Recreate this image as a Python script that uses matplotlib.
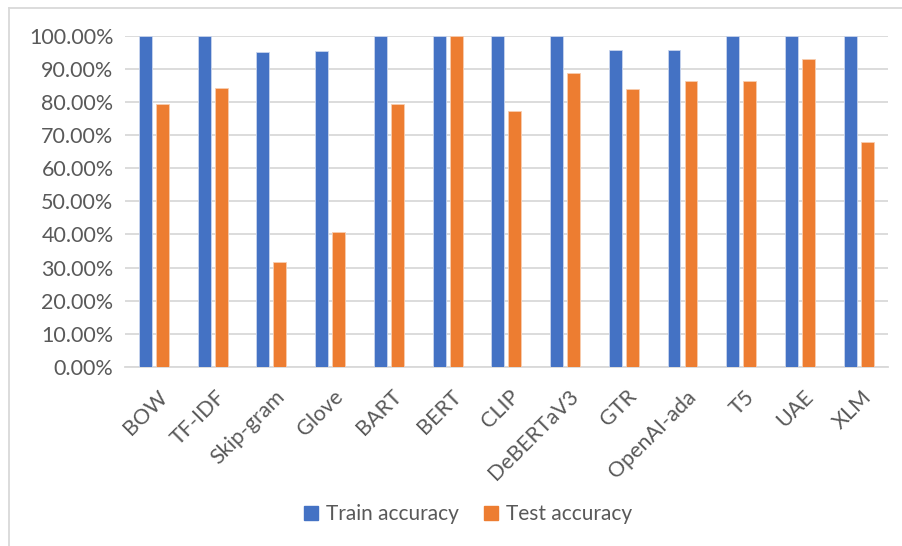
import matplotlib.pyplot as plt
import numpy as np
from matplotlib.lines import Line2D
from matplotlib.ticker import PercentFormatter
from matplotlib.transforms import ScaledTranslation

plt.rcParams['font.family'] = ['Lato', 'DejaVu Sans']

models = ['BOW', 'TF-IDF', 'Skip-gram', 'Glove', 'BART', 'BERT', 'CLIP',
          'DeBERTaV3', 'GTR', 'OpenAI-ada', 'T5', 'UAE', 'XLM']
train_acc = [100.0, 100.0, 95.0, 95.4, 100.0, 100.0, 100.0,
             100.0, 95.8, 95.8, 100.0, 100.0, 100.0]
test_acc = [79.4, 84.1, 31.8, 40.9, 79.4, 100.0, 77.2,
            88.6, 84.0, 86.2, 86.2, 93.0, 68.0]

blue = '#4472C4'
orange = '#ED7D31'
text_grey = '#595959'

fig = plt.figure(figsize=(9.03, 5.46), dpi=100)
ax = fig.add_axes([0.138, 0.3278, 0.8454, 0.6068])

x = np.arange(len(models))
w = 0.22
gap = 0.07
ax.bar(x - (w + gap) / 2, train_acc, w, color=blue, edgecolor='#c9d5ee',
       linewidth=0.6, label='Train accuracy', zorder=3)
ax.bar(x + (w + gap) / 2, test_acc, w, color=orange, edgecolor='#f8cdb0',
       linewidth=0.6, label='Test accuracy', zorder=3)

ax.set_xlim(-0.5, len(models) - 0.5)
ax.set_ylim(0, 100)
ax.set_yticks(np.arange(0, 101, 10))
ax.yaxis.set_major_formatter(PercentFormatter(decimals=2))
ax.grid(axis='y', color='#d9d9d9', linewidth=1.3, zorder=0)

for side in ['top', 'right', 'left']:
    ax.spines[side].set_visible(False)
ax.spines['bottom'].set_color('#d9d9d9')
ax.spines['bottom'].set_linewidth(1.3)
ax.tick_params(axis='both', length=0, labelsize=15.5, colors=text_grey)
ax.tick_params(axis='y', pad=8)
ax.tick_params(axis='x', pad=14)

ax.set_xticks(x)
ax.set_xticklabels(models, rotation=45, ha='right', va='top',
                   rotation_mode='anchor')
shift = ScaledTranslation(0.03, 0, fig.dpi_scale_trans)
for lbl in ax.get_xticklabels():
    lbl.set_transform(lbl.get_transform() + shift)

handles = [plt.Rectangle((0, 0), 1, 1, color=blue),
           plt.Rectangle((0, 0), 1, 1, color=orange)]
fig.legend(handles, ['Train accuracy', 'Test accuracy'], loc='center',
           bbox_to_anchor=(0.518, 0.058), ncol=2, frameon=False, fontsize=15,
           labelcolor=text_grey, handlelength=0.7, handleheight=0.7,
           handletextpad=0.35, columnspacing=1.2)

# chart area border
fig.add_artist(Line2D([9 / 903, 1], [1 - 8 / 546] * 2, color='#d9d9d9',
                      linewidth=1.3, transform=fig.transFigure))
fig.add_artist(Line2D([9 / 903] * 2, [0, 1 - 8 / 546], color='#d9d9d9',
                      linewidth=1.3, transform=fig.transFigure))

fig.savefig('out.png', dpi=100)
